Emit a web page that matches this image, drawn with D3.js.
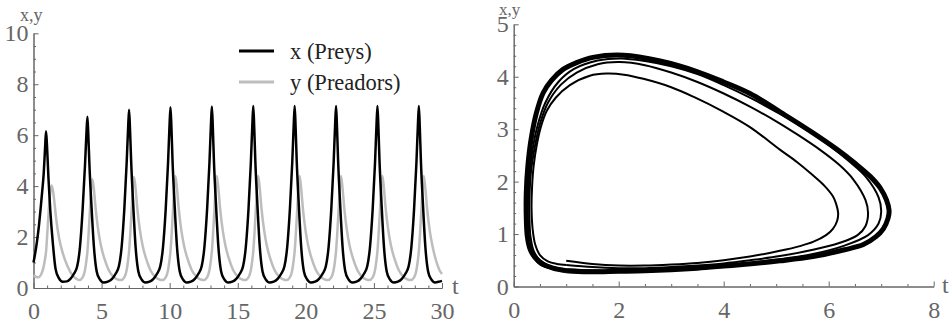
<!DOCTYPE html>
<html>
<head>
<meta charset="utf-8">
<script src="https://cdn.jsdelivr.net/npm/d3@7"></script>
<style>
  body { margin: 0; background: #fff; }
  svg { display: block; }
  .lbl { font-family: "Liberation Serif", "DejaVu Serif", serif; fill: #666; }
  .legend text { font-family: "Liberation Serif", "DejaVu Serif", serif; fill: #222; }
</style>
</head>
<body>
<svg id="chart" width="952" height="323"></svg>
<script>
// ---- data ----
const timeTicks = [0, 5, 10, 15, 20, 25, 30];
const popTicks = [0, 2, 4, 6, 8, 10];
const phaseXTicks = [0, 2, 4, 6, 8];
const phaseYTicks = [0, 1, 2, 3, 4, 5];
const seriesNames = ['x (Preys)', 'y (Preadors)'];

// x(t), preys: [t, x]
const preyPoints = [
  [0,1.0],[0.12,1.35],[0.25,1.8],[0.4,2.45],[0.52,3.1],[0.64,3.8],[0.75,4.5],[0.85,5.5],[0.92,6.15],[0.99,5.6],[1.1,4.3],[1.23,3.07],[1.42,1.76],[1.62,0.75],[1.85,0.4],[2.15,0.25],[2.45,0.26],
  [2.71,0.36],[2.96,0.55],[3.21,0.85],[3.41,1.6],[3.61,3.1],[3.78,4.8],[3.89,6.1],[3.96,6.72],[4.03,5.95],[4.11,4.8],[4.26,3.2],[4.44,1.6],[4.64,0.65],[4.86,0.35],[5.16,0.22],[5.46,0.25],
  [5.77,0.36],[6.02,0.55],[6.27,0.85],[6.47,1.6],[6.67,3.1],[6.84,4.9],[6.95,6.3],[7.02,7.0],[7.09,6.2],[7.17,5.0],[7.32,3.3],[7.5,1.6],[7.7,0.65],[7.92,0.35],[8.22,0.22],[8.52,0.25],
  [8.81,0.36],[9.06,0.55],[9.31,0.85],[9.51,1.6],[9.71,3.1],[9.88,4.9],[9.99,6.4],[10.06,7.1],[10.13,6.3],[10.21,5.0],[10.36,3.3],[10.54,1.6],[10.74,0.65],[10.96,0.35],[11.26,0.22],[11.56,0.25],
  [11.85,0.36],[12.1,0.55],[12.35,0.85],[12.55,1.6],[12.75,3.1],[12.92,4.9],[13.03,6.4],[13.1,7.13],[13.17,6.3],[13.25,5.0],[13.4,3.3],[13.58,1.6],[13.78,0.65],[14.0,0.35],[14.3,0.22],[14.6,0.25],
  [14.89,0.36],[15.14,0.55],[15.39,0.85],[15.59,1.6],[15.79,3.1],[15.96,4.9],[16.07,6.4],[16.14,7.15],[16.21,6.3],[16.29,5.0],[16.44,3.3],[16.62,1.6],[16.82,0.65],[17.04,0.35],[17.34,0.22],[17.64,0.25],
  [17.93,0.36],[18.18,0.55],[18.43,0.85],[18.63,1.6],[18.83,3.1],[19.0,4.9],[19.11,6.4],[19.18,7.15],[19.25,6.3],[19.33,5.0],[19.48,3.3],[19.66,1.6],[19.86,0.65],[20.08,0.35],[20.38,0.22],[20.68,0.25],
  [20.97,0.36],[21.22,0.55],[21.47,0.85],[21.67,1.6],[21.87,3.1],[22.04,4.9],[22.15,6.4],[22.22,7.15],[22.29,6.3],[22.37,5.0],[22.52,3.3],[22.7,1.6],[22.9,0.65],[23.12,0.35],[23.42,0.22],[23.72,0.25],
  [24.01,0.36],[24.26,0.55],[24.51,0.85],[24.71,1.6],[24.91,3.1],[25.08,4.9],[25.19,6.4],[25.26,7.15],[25.33,6.3],[25.41,5.0],[25.56,3.3],[25.74,1.6],[25.94,0.65],[26.16,0.35],[26.46,0.22],[26.76,0.25],
  [27.05,0.36],[27.3,0.55],[27.55,0.85],[27.75,1.6],[27.95,3.1],[28.12,4.9],[28.23,6.4],[28.3,7.15],[28.37,6.3],[28.45,5.0],[28.6,3.3],[28.78,1.6],[28.98,0.65],[29.2,0.35],[29.5,0.22],[29.8,0.25],[30,0.28]
];

// y(t), predators: [t, y]
const predatorPoints = [
  [0,0.5],[0.15,0.44],[0.35,0.42],[0.55,0.52],[0.72,0.78],[0.85,1.15],[0.92,1.42],[1.02,2.2],[1.12,3.05],[1.22,3.7],[1.33,4.02],[1.45,3.75],[1.56,3.25],[1.67,2.7],[1.9,1.9],[2.15,1.37],[2.5,0.85],[2.9,0.47],[3.15,0.36],
  [3.36,0.31],[3.61,0.42],[3.78,0.7],[3.89,1.1],[3.96,1.43],[4.06,2.25],[4.16,3.2],[4.24,3.95],[4.32,4.27],[4.42,3.95],[4.56,3.15],[4.76,2.25],[4.96,1.65],[5.21,1.15],[5.51,0.72],[5.86,0.45],[6.16,0.34],
  [6.42,0.31],[6.67,0.42],[6.84,0.7],[6.95,1.1],[7.02,1.45],[7.12,2.25],[7.22,3.2],[7.3,4.0],[7.38,4.36],[7.48,4.0],[7.62,3.15],[7.82,2.25],[8.02,1.65],[8.27,1.15],[8.57,0.72],[8.92,0.45],[9.22,0.34],
  [9.46,0.31],[9.71,0.42],[9.88,0.7],[9.99,1.1],[10.06,1.45],[10.16,2.25],[10.26,3.2],[10.34,4.0],[10.42,4.4],[10.52,4.0],[10.66,3.15],[10.86,2.25],[11.06,1.65],[11.31,1.15],[11.61,0.72],[11.96,0.45],[12.26,0.34],
  [12.5,0.31],[12.75,0.42],[12.92,0.7],[13.03,1.1],[13.1,1.45],[13.2,2.25],[13.3,3.2],[13.38,4.0],[13.46,4.4],[13.56,4.0],[13.7,3.15],[13.9,2.25],[14.1,1.65],[14.35,1.15],[14.65,0.72],[15.0,0.45],[15.3,0.34],
  [15.54,0.31],[15.79,0.42],[15.96,0.7],[16.07,1.1],[16.14,1.45],[16.24,2.25],[16.34,3.2],[16.42,4.0],[16.5,4.4],[16.6,4.0],[16.74,3.15],[16.94,2.25],[17.14,1.65],[17.39,1.15],[17.69,0.72],[18.04,0.45],[18.34,0.34],
  [18.58,0.31],[18.83,0.42],[19.0,0.7],[19.11,1.1],[19.18,1.45],[19.28,2.25],[19.38,3.2],[19.46,4.0],[19.54,4.4],[19.64,4.0],[19.78,3.15],[19.98,2.25],[20.18,1.65],[20.43,1.15],[20.73,0.72],[21.08,0.45],[21.38,0.34],
  [21.62,0.31],[21.87,0.42],[22.04,0.7],[22.15,1.1],[22.22,1.45],[22.32,2.25],[22.42,3.2],[22.5,4.0],[22.58,4.4],[22.68,4.0],[22.82,3.15],[23.02,2.25],[23.22,1.65],[23.47,1.15],[23.77,0.72],[24.12,0.45],[24.42,0.34],
  [24.66,0.31],[24.91,0.42],[25.08,0.7],[25.19,1.1],[25.26,1.45],[25.36,2.25],[25.46,3.2],[25.54,4.0],[25.62,4.4],[25.72,4.0],[25.86,3.15],[26.06,2.25],[26.26,1.65],[26.51,1.15],[26.81,0.72],[27.16,0.45],[27.46,0.34],
  [27.7,0.31],[27.95,0.42],[28.12,0.7],[28.23,1.1],[28.3,1.45],[28.4,2.25],[28.5,3.2],[28.58,4.0],[28.66,4.4],[28.76,4.0],[28.9,3.15],[29.1,2.25],[29.3,1.65],[29.55,1.1],[29.8,0.72],[30,0.55]
];

// phase plane (x, y), one array per revolution; the last one is the limit cycle
const phaseRev1 = [
  [1.0,0.49],[1.5,0.43],[2.0,0.4],[2.5,0.4],[3.0,0.42],[3.5,0.45],[4.0,0.5],[4.5,0.57],[5.07,0.68],[5.45,0.77],[5.7,0.85],[5.95,0.98],[6.08,1.1],[6.16,1.25],[6.18,1.4],
  [6.14,1.58],[6.08,1.72],[5.92,1.92],[5.7,2.12],[5.4,2.37],[5.07,2.61],[4.5,3.04],[4.0,3.33],[3.42,3.62],[3.0,3.8],[2.47,3.96],[2.1,4.04],[1.77,4.06],[1.45,4.02],
  [1.07,3.84],[0.8,3.6],[0.63,3.35],[0.52,3.05],[0.44,2.7],[0.38,2.3],[0.35,1.9],[0.34,1.5],[0.36,1.1],[0.41,0.8],[0.5,0.6],[0.65,0.48],[0.82,0.43],[1.0,0.41]
];
const phaseRev2 = [
  [1.0,0.41],[1.5,0.37],[2.0,0.35],[2.5,0.35],[3.0,0.37],[3.5,0.4],[4.0,0.44],[4.5,0.5],[5.07,0.58],[5.7,0.7],[6.2,0.83],[6.55,0.98],[6.7,1.15],[6.75,1.4],
  [6.7,1.65],[6.47,2.04],[6.2,2.32],[5.83,2.61],[5.4,2.9],[5.0,3.15],[4.5,3.43],[4.0,3.68],[3.5,3.9],[3.0,4.08],[2.5,4.22],[2.02,4.28],[1.6,4.24],
  [1.2,4.08],[0.9,3.85],[0.65,3.5],[0.5,3.1],[0.4,2.65],[0.33,2.2],[0.3,1.7],[0.3,1.3],[0.32,0.95],[0.38,0.68],[0.5,0.5],[0.7,0.38],[1.0,0.33]
];
const phaseRev3 = [
  [1.0,0.33],[1.5,0.31],[2.0,0.3],[2.5,0.31],[3.0,0.33],[3.5,0.36],[4.0,0.4],[4.5,0.45],[5.07,0.52],[5.7,0.62],[6.3,0.78],[6.75,0.98],[6.95,1.2],[7.0,1.43],
  [6.95,1.7],[6.7,2.1],[6.4,2.38],[6.0,2.7],[5.5,3.04],[5.0,3.33],[4.5,3.6],[4.0,3.84],[3.5,4.05],[3.0,4.2],[2.5,4.3],[2.05,4.35],[1.6,4.31],
  [1.15,4.15],[0.85,3.9],[0.6,3.5],[0.45,3.05],[0.35,2.55],[0.29,2.05],[0.27,1.6],[0.27,1.2],[0.3,0.85],[0.36,0.6],[0.5,0.42],[0.75,0.33],[1.0,0.3]
];
const phaseLimit = [
  [1.0,0.3],[1.4,0.28],[2.0,0.29],[2.5,0.3],[3.0,0.32],[3.5,0.35],[4.0,0.39],[4.36,0.42],[5.07,0.49],[5.7,0.57],[6.3,0.7],[6.66,0.8],[6.9,0.95],[7.04,1.1],[7.13,1.3],[7.15,1.45],
  [7.1,1.65],[6.98,1.88],[6.79,2.1],[6.5,2.35],[6.15,2.62],[5.7,2.93],[5.2,3.25],[4.5,3.68],[4.0,3.9],[3.49,4.1],[2.79,4.3],[2.09,4.41],[1.51,4.37],
  [1.2,4.27],[0.94,4.14],[0.72,3.93],[0.56,3.69],[0.43,3.3],[0.33,2.8],[0.27,2.3],[0.24,1.8],[0.24,1.3],[0.26,0.95],[0.31,0.72],[0.4,0.56],[0.55,0.43],[0.75,0.35],[1.0,0.3]
];

const preyColor = '#000000';
const predatorColor = '#bdbdbd';
const axisColor = '#666';
const serif = 'Liberation Serif, DejaVu Serif, serif';
const tickFont = 24;

const svg = d3.select('#chart');

function styleAxis(g) {
	g.attr('font-family', null).attr('font-size', null);
	g.selectAll('path, line').attr('stroke', axisColor);
	g.selectAll('text')
		.attr('fill', axisColor)
		.style('font-family', serif)
		.style('font-size', tickFont + 'px');
}

function drawAxes(xScale, yScale, xMajor, xMinorStep, yMajor, yMinorStep) {
	const xDom = xScale.domain();
	const yDom = yScale.domain();
	const xMinor = d3.range(xDom[0], xDom[1] + 1e-9, xMinorStep).filter((v) => !xMajor.some((m) => Math.abs(m - v) < 1e-9));
	const yMinor = d3.range(yDom[0], yDom[1] + 1e-9, yMinorStep).filter((v) => !yMajor.some((m) => Math.abs(m - v) < 1e-9));
	const fmt = d3.format('d');

	svg.append('g')
		.attr('transform', 'translate(0,' + yScale(0) + ')')
		.call(d3.axisBottom(xScale).tickValues(xMinor).tickSizeInner(-2.5).tickSizeOuter(0).tickFormat(() => ''))
		.call(styleAxis);
	svg.append('g')
		.attr('transform', 'translate(0,' + yScale(0) + ')')
		.call(d3.axisBottom(xScale).tickValues(xMajor).tickSizeInner(-5).tickSizeOuter(0).tickPadding(14).tickFormat(fmt))
		.call(styleAxis);

	svg.append('g')
		.attr('transform', 'translate(' + xScale(0) + ',0)')
		.call(d3.axisLeft(yScale).tickValues(yMinor).tickSizeInner(-2.5).tickSizeOuter(0).tickFormat(() => ''))
		.call(styleAxis);
	svg.append('g')
		.attr('transform', 'translate(' + xScale(0) + ',0)')
		.call(d3.axisLeft(yScale).tickValues(yMajor).tickSizeInner(-5).tickSizeOuter(0).tickPadding(5).tickFormat(fmt))
		.call(styleAxis);
}

// ---- left panel: time series ----
const xTime = d3.scaleLinear().domain([0, 30]).range([33.5, 442]);
const yPop = d3.scaleLinear().domain([0, 10]).range([288, 33.3]);

drawAxes(xTime, yPop, timeTicks, 1, popTicks, 0.5);

const timeLine = d3.line()
	.x((d) => xTime(d[0]))
	.y((d) => yPop(d[1]))
	.curve(d3.curveMonotoneX);

svg.append('path')
	.datum(predatorPoints)
	.attr('d', timeLine)
	.attr('fill', 'none')
	.attr('stroke', predatorColor)
	.attr('stroke-width', 2.5);

svg.append('path')
	.datum(preyPoints)
	.attr('d', timeLine)
	.attr('fill', 'none')
	.attr('stroke', preyColor)
	.attr('stroke-width', 2.5);

svg.append('text').attr('class', 'lbl').attr('x', 20).attr('y', 21).attr('font-size', 18).text('x,y');
svg.append('text').attr('class', 'lbl').attr('x', 452).attr('y', 294).attr('font-size', 24).text('t');

// legend
const legend = svg.append('g').attr('class', 'legend');
[preyColor, predatorColor].forEach((c, i) => {
	const ly = 51 + i * 31;
	legend.append('line')
		.attr('x1', 239).attr('x2', 274)
		.attr('y1', ly).attr('y2', ly)
		.attr('stroke', c).attr('stroke-width', 3);
	legend.append('text')
		.attr('x', 290).attr('y', ly + 7.5)
		.attr('font-size', 22.5)
		.text(seriesNames[i]);
});

// ---- right panel: phase plane ----
const xPhase = d3.scaleLinear().domain([0, 8]).range([513.7, 933.7]);
const yPhase = d3.scaleLinear().domain([0, 5]).range([286.5, 24.3]);

drawAxes(xPhase, yPhase, phaseXTicks, 0.5, phaseYTicks, 0.2);

const phaseLine = d3.line()
	.x((d) => xPhase(d[0]))
	.y((d) => yPhase(d[1]))
	.curve(d3.curveCatmullRom.alpha(0.5));

svg.append('path')
	.datum(phaseLimit)
	.attr('d', phaseLine)
	.attr('fill', 'none')
	.attr('stroke', '#000')
	.attr('stroke-width', 5);

[phaseRev1, phaseRev2, phaseRev3].forEach((rev) => {
	svg.append('path')
		.datum(rev)
		.attr('d', phaseLine)
		.attr('fill', 'none')
		.attr('stroke', '#000')
		.attr('stroke-width', 2);
});

svg.append('text').attr('class', 'lbl').attr('x', 499).attr('y', 14.5).attr('font-size', 17).text('x,y');
svg.append('text').attr('class', 'lbl').attr('x', 942).attr('y', 293).attr('font-size', 24).text('t');
</script>
</body>
</html>
